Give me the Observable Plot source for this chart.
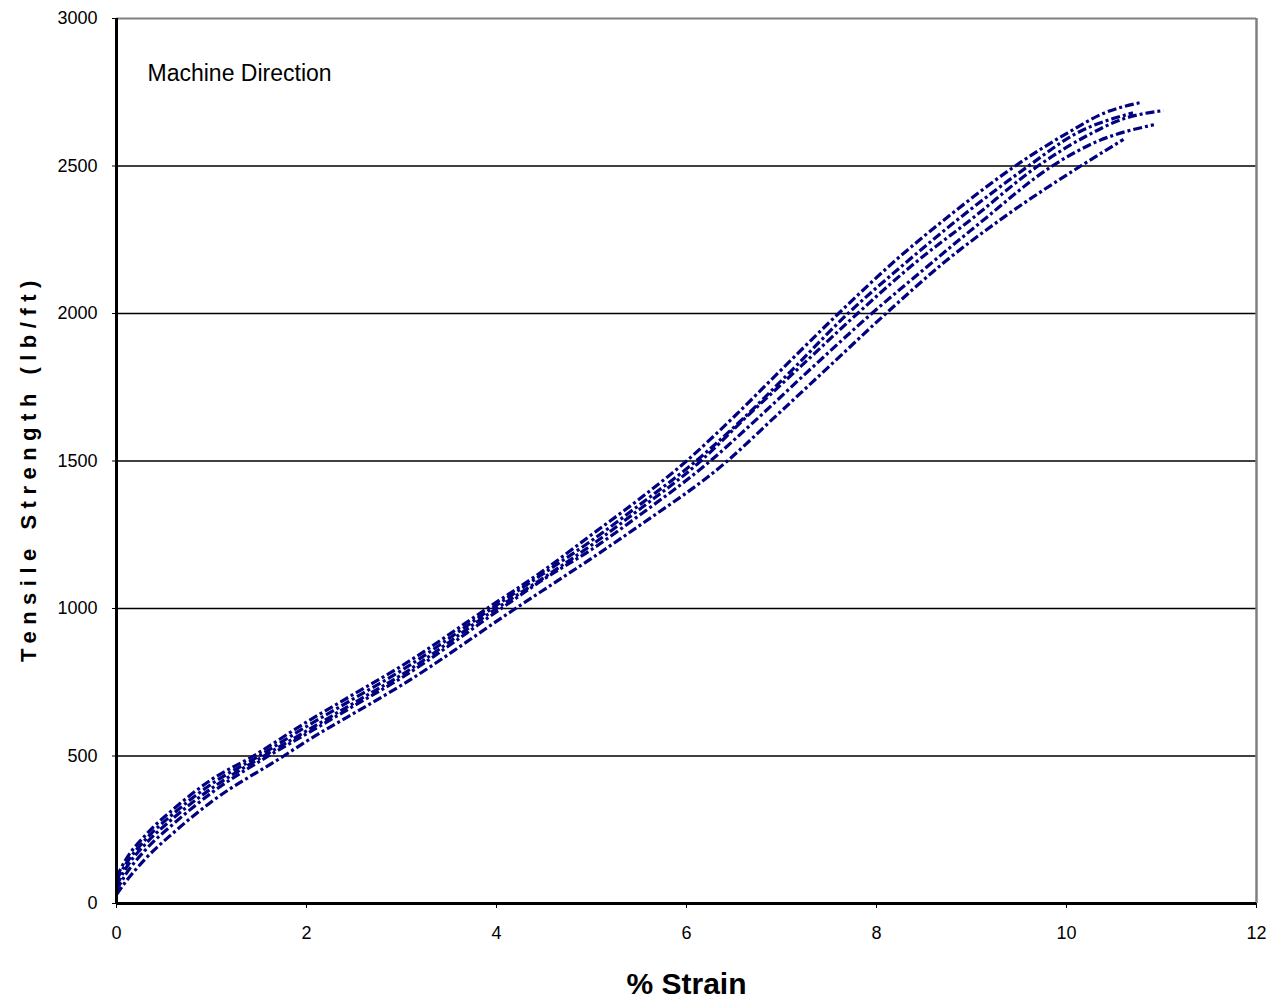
<!DOCTYPE html>
<html>
<head>
<meta charset="utf-8">
<script src="https://cdn.jsdelivr.net/npm/d3@7"></script>
<script src="https://cdn.jsdelivr.net/npm/@observablehq/plot@0.6"></script>
<style>
  html, body { margin: 0; padding: 0; background: #fff; }
  #chart { width: 1274px; height: 1006px; }
</style>
</head>
<body>
<div id="chart"></div>
<script>
// ---- Data ----
const xTicks = [0, 2, 4, 6, 8, 10, 12];
const yTicks = [0, 500, 1000, 1500, 2000, 2500, 3000];
const gridValues = [500, 1000, 1500, 2000, 2500];

const s1Strain = [0, 0.1, 0.3, 0.6, 1.0, 1.44, 2.0, 2.5, 3.0, 3.9, 4.5, 5.0, 5.5, 6.0, 6.5, 7.0, 7.6, 8.2, 8.8, 9.46, 10.0, 10.4, 10.78];
const s1Load   = [90, 150, 230, 320, 420, 500, 615, 710, 805, 1000, 1130, 1250, 1370, 1500, 1650, 1810, 2000, 2180, 2340, 2500, 2610, 2680, 2715];

const s2Strain = [0, 0.1, 0.3, 0.6, 1.0, 1.5, 2.0, 2.5, 3.0, 3.95, 4.5, 5.0, 5.5, 6.1, 6.6, 7.1, 7.7, 8.3, 8.9, 9.6, 10.1, 10.7];
const s2Load   = [80, 135, 215, 305, 405, 500, 600, 695, 790, 1000, 1120, 1230, 1350, 1500, 1645, 1805, 2000, 2170, 2330, 2500, 2610, 2680];

const s3Strain = [0, 0.1, 0.3, 0.6, 1.0, 1.55, 2.0, 2.5, 3.0, 4.0, 4.5, 5.0, 5.5, 6.15, 6.6, 7.2, 7.8, 8.4, 9.0, 9.7, 10.2, 10.6, 11.02];
const s3Load   = [60, 120, 200, 290, 390, 500, 585, 680, 775, 1000, 1105, 1215, 1335, 1500, 1640, 1820, 2000, 2170, 2320, 2500, 2600, 2660, 2688];

const s4Strain = [0, 0.1, 0.3, 0.6, 1.0, 1.6, 2.0, 2.5, 3.0, 4.05, 4.5, 5.0, 5.5, 6.25, 6.7, 7.3, 7.95, 8.5, 9.1, 9.85, 10.3, 10.92];
const s4Load   = [45, 100, 180, 270, 375, 500, 575, 670, 765, 1000, 1100, 1200, 1315, 1500, 1630, 1810, 2000, 2150, 2310, 2500, 2580, 2640];

const s5Strain = [0, 0.1, 0.3, 0.6, 1.0, 1.76, 2.0, 2.5, 3.0, 4.2, 4.6, 5.0, 5.5, 6.43, 6.9, 7.5, 8.1, 8.7, 9.4, 10.15, 10.6];
const s5Load   = [30, 75, 150, 240, 345, 500, 550, 645, 740, 1000, 1085, 1170, 1280, 1500, 1640, 1820, 2000, 2170, 2340, 2500, 2590];

const specimens = [
  ["Specimen 1", s1Strain, s1Load],
  ["Specimen 2", s2Strain, s2Load],
  ["Specimen 3", s3Strain, s3Load],
  ["Specimen 4", s4Strain, s4Load],
  ["Specimen 5", s5Strain, s5Load]
];
const rows = specimens.flatMap(([name, xs, ys]) => xs.map((x, i) => ({specimen: name, strain: x, load: ys[i]})));

const titleText = "Machine Direction";
const xLabel = "% Strain";
const yLabel = "Tensile Strength (lb/ft)";

const navy = "#000080";

const chart = Plot.plot({
  width: 1274,
  height: 1006,
  marginLeft: 116,
  marginRight: 18,
  marginTop: 18,
  marginBottom: 103,
  style: {fontFamily: "'Liberation Sans', Arial, sans-serif", color: "#000", background: "#fff"},
  x: {domain: [0, 12]},
  y: {domain: [0, 3000]},
  marks: [
    Plot.ruleY(gridValues, {stroke: "#000", strokeWidth: 1.5}),
    Plot.ruleY([3000], {stroke: "#808080", strokeWidth: 2}),
    Plot.ruleX([12], {stroke: "#808080", strokeWidth: 2.5}),
    Plot.line(rows, {
      x: "strain", y: "load", z: "specimen",
      stroke: navy, strokeWidth: 3.2,
      strokeDasharray: "9,3,3,3",
      strokeLinecap: "butt",
      strokeLinejoin: "miter",
      curve: "monotone-x"
    }),
    Plot.ruleY([0], {stroke: "#000", strokeWidth: 3}),
    Plot.ruleX([0], {stroke: "#000", strokeWidth: 3}),
    Plot.axisX({ticks: xTicks, tickFormat: d3.format("d"), tickSize: 5, tickPadding: 18, fontSize: 18, label: null, stroke: "#000"}),
    Plot.axisY({ticks: yTicks, tickFormat: d3.format("d"), tickSize: 4, tickPadding: 15, fontSize: 18, label: null, stroke: "#000"}),
    Plot.text([titleText], {frameAnchor: "top-left", dx: 31, dy: 46, text: d => d, textAnchor: "start", fontSize: 23, fill: "#000"}),
    Plot.text([xLabel], {frameAnchor: "bottom", dy: 90, text: d => d, textAnchor: "middle", fontSize: 30, fontWeight: "bold", fill: "#000"}),
    Plot.text([yLabel], {frameAnchor: "left", dx: -88, dy: 7, rotate: -90, text: d => d, textAnchor: "middle", fontSize: 22, fontWeight: "bold", fill: "#000"})
  ]
});

document.getElementById("chart").appendChild(chart);
d3.select(chart).selectAll("text").filter(function() { return this.textContent === yLabel; })
  .style("letter-spacing", "6.5px");
</script>
</body>
</html>
